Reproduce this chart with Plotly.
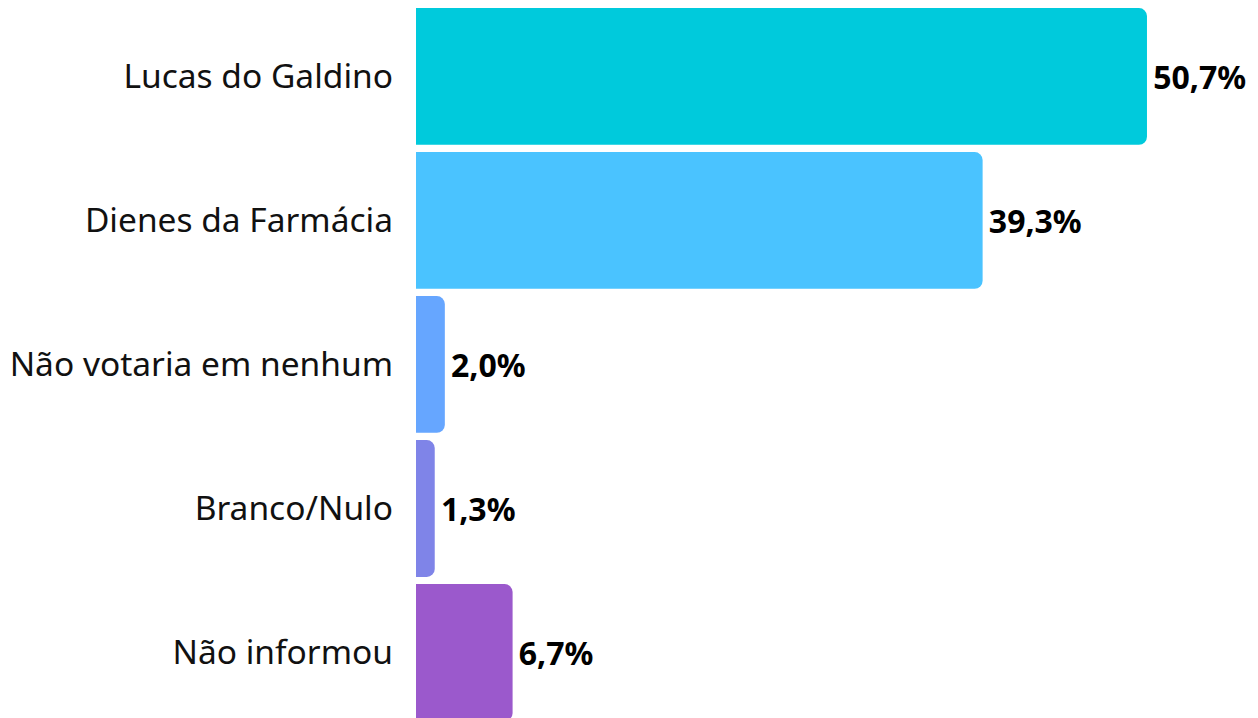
import plotly.graph_objects as go

categories = ["Lucas do Galdino", "Dienes da Farmácia", "Não votaria em nenhum", "Branco/Nulo", "Não informou"]
values = [50.7, 39.3, 2.0, 1.3, 6.7]
labels = ["50,7%", "39,3%", "2,0%", "1,3%", "6,7%"]
colors = ["#00CADC", "#4AC3FF", "#66A6FF", "#7F84E8", "#9B59CC"]

fig = go.Figure(go.Bar(
    x=values, y=categories, orientation="h",
    marker=dict(color=colors, line=dict(width=0), cornerradius=8),
    text=["\u200a" + t for t in labels], textposition="outside", cliponaxis=False,
    textfont=dict(family="Noto Sans", size=32, color="#000000", weight="bold"),
))
fig.update_layout(
    width=1258, height=718,
    margin=dict(l=416, r=0, t=0, b=0),
    paper_bgcolor="white", plot_bgcolor="white",
    bargap=0.05, showlegend=False,
    font=dict(family="Noto Sans", color="#111111"),
)
fig.update_xaxes(range=[0, 58.4], visible=False, showgrid=False, zeroline=False)
fig.update_yaxes(range=[4.455, -0.531], showgrid=False, zeroline=False,
                 tickfont=dict(family="Noto Sans", size=33.5, color="#111111"),
                 ticks="", ticklabelstandoff=22, categoryorder="array", categoryarray=categories)
fig.write_html("out.html")
